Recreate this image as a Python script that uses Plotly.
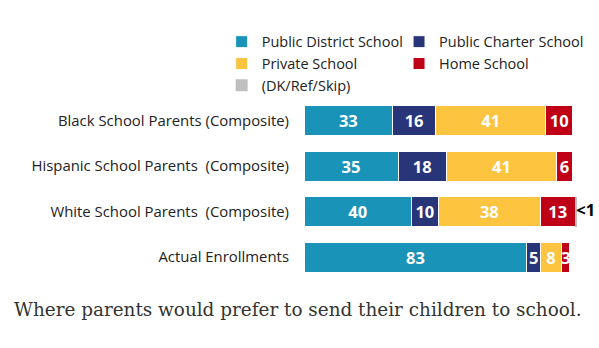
import plotly.graph_objects as go

categories = ["Black School Parents (Composite)",
              "Hispanic School Parents  (Composite)",
              "White School Parents  (Composite)",
              "Actual Enrollments"]
series_names = ["Public District School", "Public Charter School", "Private School",
                "Home School", "(DK/Ref/Skip)"]
district = [33, 35, 40, 83]
charter = [16, 18, 10, 5]
private = [41, 41, 38, 8]
home = [10, 6, 13, 3]
dk = [0, 0, 0.4, 0]
dk_labels = ["", "", "<1", ""]
colors = ["#1a93b9", "#283579", "#fcc43f", "#c00016", "#bfbfbf"]
legend_ids = ["legend", "legend2", "legend", "legend2", "legend"]
caption = "Where parents would prefer to send their children to school."

FONT = "Open Sans"
fig = go.Figure()
values = [district, charter, private, home]
for name, vals, col, lg in zip(series_names[:4], values, colors[:4], legend_ids[:4]):
    fig.add_trace(go.Bar(
        y=categories, x=vals, name=name, orientation="h",
        marker=dict(color=col, line=dict(color="white", width=1)),
        text=[str(v) for v in vals], textposition="inside", insidetextanchor="middle",
        constraintext="none",
        textfont=dict(family=FONT, size=16.5, color="white", weight="bold"),
        legend=lg, hoverinfo="skip", cliponaxis=False,
    ))
fig.add_trace(go.Bar(
    y=categories, x=dk, name=series_names[4], orientation="h",
    marker=dict(color=colors[4], line=dict(width=0)),
    textposition="none",
    legend="legend", hoverinfo="skip", cliponaxis=False,
))
# "<1" label placed just beyond the end of each stacked row
totals = [a + b + c + d + e for a, b, c, d, e in zip(district, charter, private, home, dk)]
fig.add_trace(go.Scatter(
    y=categories, x=totals, mode="text", text=dk_labels, textposition="middle right",
    textfont=dict(family=FONT, size=16.5, color="black", weight="bold"),
    showlegend=False, hoverinfo="skip", cliponaxis=False,
))

legend_font = dict(family=FONT, size=14.5, color="#222222")
fig.update_layout(
    width=599, height=348,
    margin=dict(l=304, r=10, t=98, b=68),
    barmode="stack", bargap=0.34,
    paper_bgcolor="white", plot_bgcolor="white",
    xaxis=dict(range=[0, 105], visible=False, fixedrange=True),
    yaxis=dict(autorange="reversed", showgrid=False, zeroline=False, showline=False,
               tickfont=dict(family=FONT, size=14.9, color="#222222"),
               ticks="", ticklabelstandoff=14),
    legend=dict(orientation="v", x=-0.292, xanchor="left", y=1.397, yanchor="top",
                font=legend_font, bgcolor="rgba(0,0,0,0)", traceorder="normal"),
    legend2=dict(orientation="v", x=0.337, xanchor="left", y=1.397, yanchor="top",
                 font=legend_font, bgcolor="rgba(0,0,0,0)", traceorder="normal"),
    showlegend=True,
    annotations=[dict(text=caption, xref="paper", yref="paper", x=-1.035, xanchor="left",
                      y=-0.16, yanchor="middle", showarrow=False,
                      font=dict(family="DejaVu Serif", size=18.4, color="#333333"))],
)

fig.write_html("out.html")
